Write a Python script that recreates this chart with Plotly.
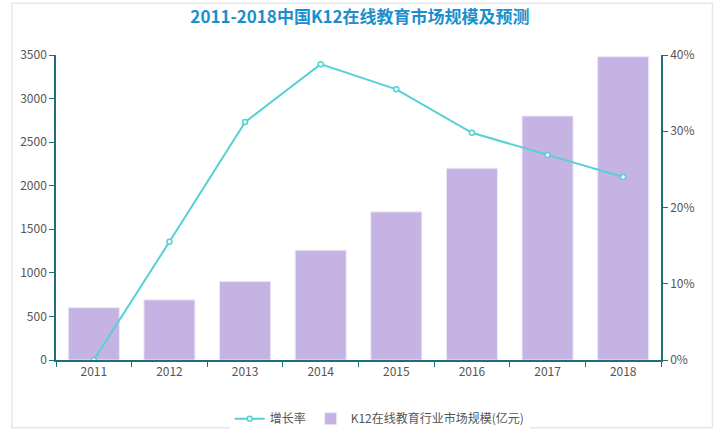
import plotly.graph_objects as go

# 年份和数据
years = ['2011', '2012', '2013', '2014', '2015', '2016', '2017', '2018']
market_size = [600, 690, 900, 1260, 1700, 2200, 2800, 3480]
growth_rate = [0.0, 15.5, 31.2, 38.8, 35.5, 29.8, 26.9, 24.0]

axis_color = '#1e6f7b'
font_family = 'Noto Sans CJK SC, Noto Sans, sans-serif'

fig = go.Figure()

# 柱状图：市场规模
fig.add_trace(go.Bar(
    x=years, y=market_size,
    name='K12在线教育行业市场规模(亿元)',
    marker=dict(color='#c5b4e3', line=dict(color='#ece6f7', width=1)),
    yaxis='y',
))

# 折线图：增长率
fig.add_trace(go.Scatter(
    x=years, y=growth_rate,
    name='增长率',
    mode='lines+markers',
    line=dict(color='#55d0d4', width=2),
    marker=dict(symbol='circle', size=5, color='white',
                line=dict(color='#55d0d4', width=1.5)),
    yaxis='y2',
))

fig.update_layout(
    width=720, height=431,
    margin=dict(l=56, r=59, t=55, b=71, autoexpand=False),
    paper_bgcolor='white',
    plot_bgcolor='white',
    font=dict(family=font_family, size=12, color='#555555'),
    title=dict(
        text='<b>2011-2018中国K12在线教育市场规模及预测</b>',
        x=0.5, xanchor='center', y=0.96, yanchor='middle',
        font=dict(size=17, color='#1a8fcd', family=font_family),
    ),
    bargap=0.325,
    showlegend=True,
    legend=dict(
        orientation='h', x=0.535, xanchor='center', y=-0.145, yanchor='top',
        traceorder='reversed',
        font=dict(size=12, color='#555555'),
    ),
    xaxis=dict(
        type='category', automargin=False,
        showline=True, linecolor=axis_color, linewidth=1.5,
        ticks='outside', tickson='boundaries', ticklen=5, tickcolor=axis_color,
        showgrid=False, zeroline=False,
    ),
    yaxis=dict(
        range=[0, 3500], dtick=500, automargin=False,
        showline=True, linecolor=axis_color, linewidth=1.5,
        ticks='outside', ticklen=5, tickcolor=axis_color,
        showgrid=False, zeroline=False,
    ),
    yaxis2=dict(
        range=[0, 40], dtick=10, ticksuffix='%', automargin=False,
        overlaying='y', side='right',
        showline=True, linecolor=axis_color, linewidth=1.5,
        ticks='outside', ticklen=5, tickcolor=axis_color,
        showgrid=False, zeroline=False,
    ),
)

# 外框
fig.add_shape(type='rect', xref='paper', yref='paper',
              x0=-0.073, x1=1.085, y0=-0.222, y1=1.17,
              line=dict(color='#e3e8ef', width=1.5), layer='below')

# 去掉页面默认边距，让图表贴齐窗口；隐藏工具栏
fig.write_html('out.html', config={'displayModeBar': False},
               post_script="document.body.style.margin='0';")
